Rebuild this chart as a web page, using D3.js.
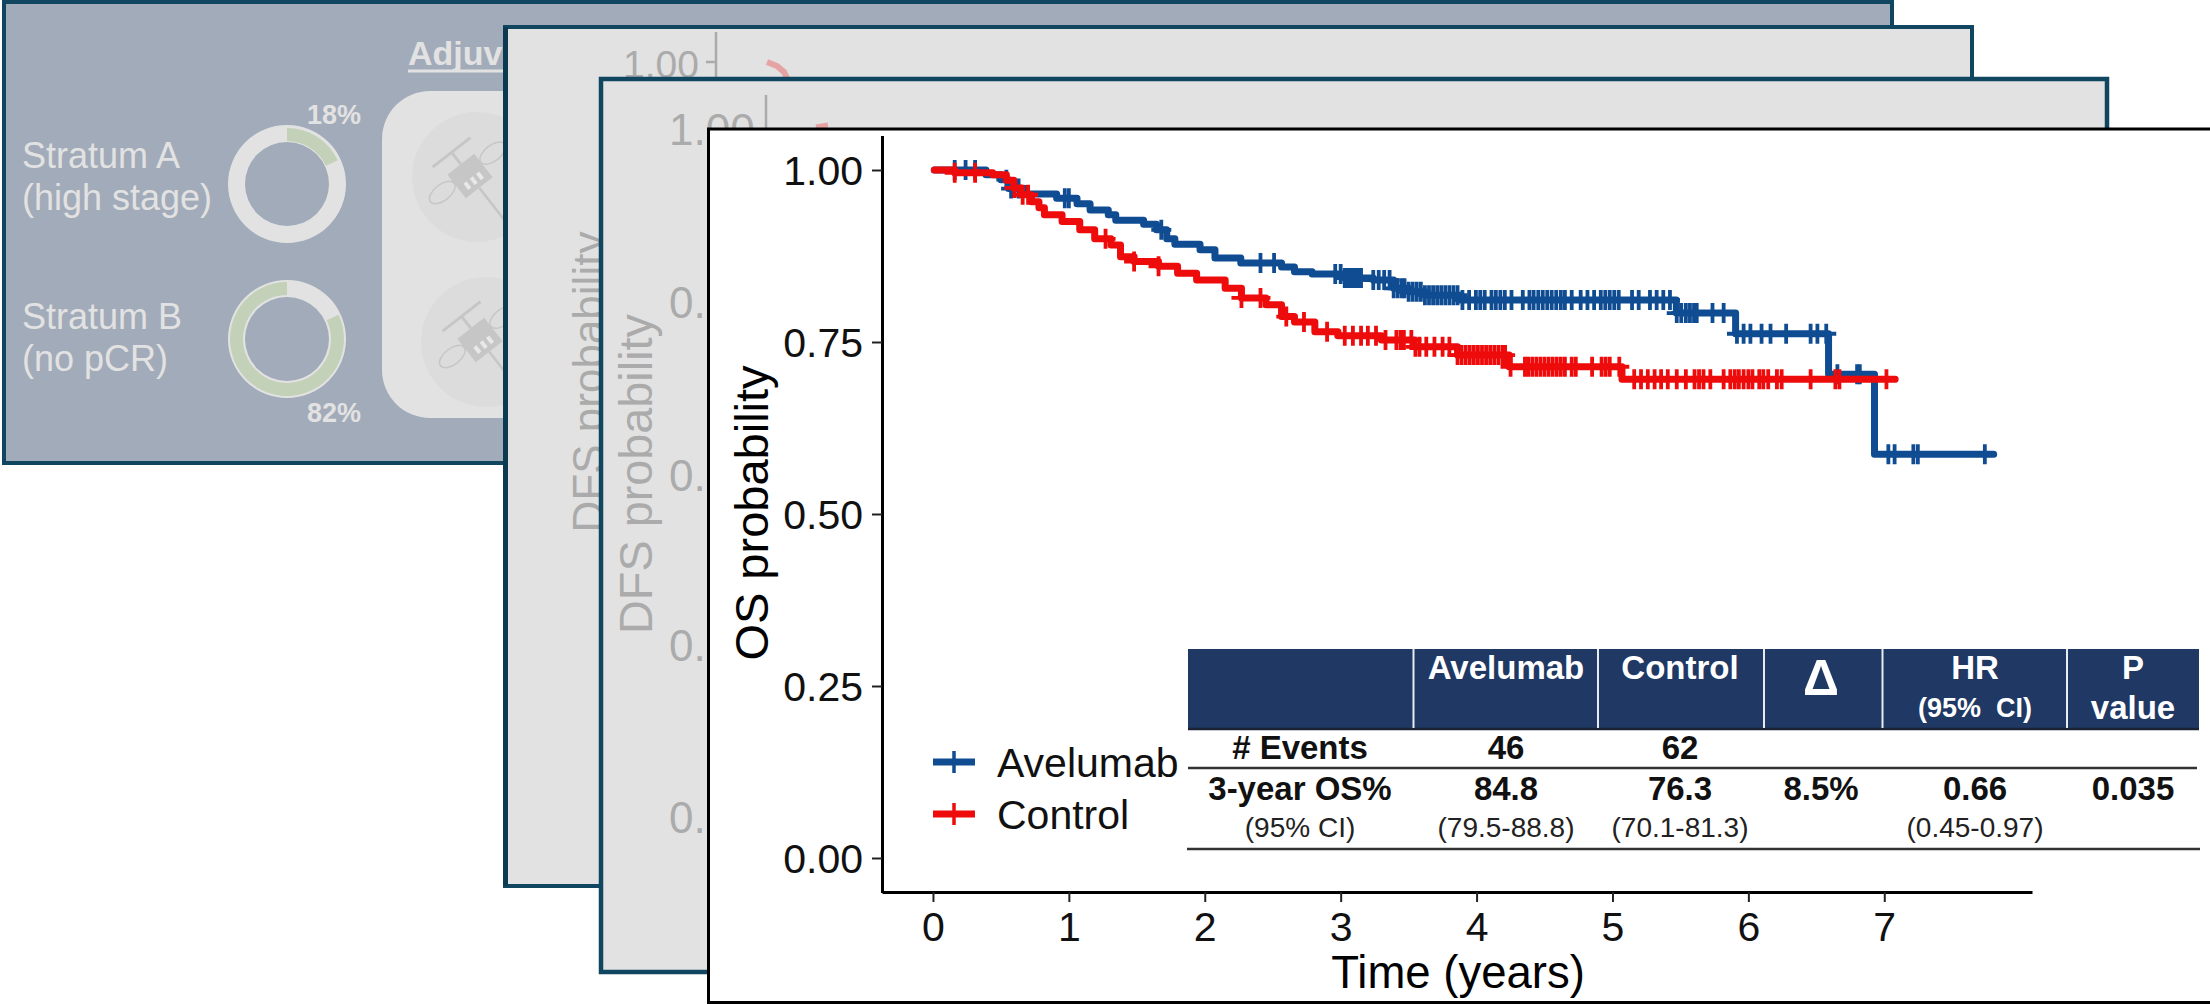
<!DOCTYPE html>
<html><head><meta charset="utf-8">
<script src="https://cdn.jsdelivr.net/npm/d3@7"></script>
<style>html,body{margin:0;padding:0;background:#fff}svg{display:block}text{font-family:"Liberation Sans",Arial,sans-serif}</style>
</head><body><svg id="c" width="2210" height="1004"></svg>
<script>
const blueT=[0.01,0.39,0.50,0.557,0.688,0.91,1.06,1.156,1.29,1.345,1.55,1.645,1.72,1.78,1.965,2.075,2.265,2.565,2.66,2.79,3.03,3.24,3.39,3.5,3.62,3.88,5.47,5.906,6.59,6.928,7.805];
const blueS=[1,0.993,0.986,0.973,0.965,0.959,0.951,0.942,0.935,0.927,0.921,0.913,0.90,0.892,0.884,0.872,0.865,0.859,0.852,0.849,0.843,0.84,0.828,0.823,0.818,0.811,0.792,0.762,0.703,0.587,0.587];
const redT=[0.01,0.16,0.44,0.54,0.595,0.65,0.725,0.78,0.82,0.95,1.08,1.19,1.31,1.38,1.48,1.66,1.80,1.94,2.15,2.27,2.45,2.565,2.66,2.81,2.98,3.3,3.54,3.86,4.24,5.07,7.08];
const redS=[1,0.996,0.993,0.985,0.974,0.964,0.954,0.945,0.935,0.925,0.913,0.90,0.891,0.874,0.867,0.86,0.85,0.84,0.828,0.814,0.804,0.787,0.779,0.765,0.759,0.753,0.743,0.731,0.714,0.696,0.696];
const blueCensor=[0.16,0.24,0.31,0.54,0.575,0.63,0.97,1.0,1.68,2.41,2.51,2.96,3.0,3.03,3.05,3.07,3.09,3.11,3.13,3.15,3.24,3.28,3.32,3.36,3.39,3.42,3.45,3.47,3.5,3.53,3.56,3.59,3.62,3.65,3.68,3.71,3.74,3.77,3.80,3.83,3.86,3.896,3.945,3.995,4.027,4.06,4.11,4.142,4.175,4.208,4.257,4.34,4.389,4.42,4.454,4.487,4.52,4.553,4.586,4.62,4.65,4.70,4.766,4.816,4.865,4.914,4.947,4.98,5.013,5.046,5.144,5.193,5.276,5.325,5.374,5.423,5.473,5.506,5.54,5.57,5.60,5.62,5.736,5.818,5.916,5.965,6.015,6.097,6.163,6.278,6.458,6.508,6.573,6.655,6.80,6.82,7.03,7.076,7.214,7.247,7.74];
const redCensor=[0.16,0.31,0.60,0.66,0.70,1.27,1.48,1.66,2.27,2.41,2.6,2.73,2.9,3.03,3.09,3.15,3.2,3.26,3.33,3.41,3.44,3.465,3.52,3.55,3.58,3.63,3.69,3.75,3.80,3.86,3.89,3.92,3.95,3.98,4.01,4.04,4.07,4.10,4.13,4.16,4.19,4.21,4.25,4.356,4.38,4.41,4.44,4.47,4.5,4.53,4.56,4.59,4.62,4.65,4.70,4.73,4.85,4.92,4.95,4.98,5.05,5.16,5.21,5.26,5.31,5.358,5.407,5.473,5.54,5.604,5.637,5.67,5.72,5.818,5.867,5.9,5.93,5.965,6.0,6.03,6.08,6.11,6.146,6.21,6.245,6.458,6.64,6.67,7.016];
const yTicks=[0,0.25,0.5,0.75,1];
const xTicks=[0,1,2,3,4,5,6,7];
const legendLabels=["Avelumab","Control"];
const legendColors=["#0f4c92","#ee0b0b"];
const stratumLabels=[["Stratum A","(high stage)"],["Stratum B","(no pCR)"]];
const stratumPct=[18,82];

const svg=d3.select("#c");
const TEAL="#10465f",PANEL="#e2e2e2",GREY="#ababab";

function rect(g,x,y,w,h,fill,stroke,sw,rx){return g.append("rect").attr("x",x).attr("y",y).attr("width",w).attr("height",h).attr("fill",fill).attr("stroke",stroke||"none").attr("stroke-width",sw||0).attr("rx",rx||0);}
function text(g,s,x,y,size,fill,opt){opt=opt||{};const t=g.append("text").attr("x",x).attr("y",y).attr("font-size",size).attr("fill",fill).attr("text-anchor",opt.a||"start").attr("font-weight",opt.b?"bold":"normal").text(s);if(opt.rot)t.attr("transform",`rotate(-90 ${x} ${y})`);return t;}
function line(g,x1,y1,x2,y2,c,w){return g.append("line").attr("x1",x1).attr("y1",y1).attr("x2",x2).attr("y2",y2).attr("stroke",c).attr("stroke-width",w);}

// panel 1
const p1=svg.append("g");
rect(p1,4,2,1888,461,"#a2abb9",TEAL,4);
const arc=d3.arc();
[184,339].forEach((cy,i)=>{
  const g=p1.append("g").attr("transform",`translate(287,${cy})`);
  g.append("path").attr("d",arc({innerRadius:42,outerRadius:59,startAngle:0,endAngle:2*Math.PI})).attr("fill",PANEL);
  const a=2*Math.PI*stratumPct[0]/100;
  g.append("path").attr("d",arc(i==0?{innerRadius:43,outerRadius:56,startAngle:0,endAngle:a}:{innerRadius:44,outerRadius:57,startAngle:a,endAngle:2*Math.PI})).attr("fill","#c2d1b7");
});
[[168,210],[329,371]].forEach((ys,i)=>ys.forEach((y,j)=>text(p1,stratumLabels[i][j],22,y,36,PANEL)));
text(p1,stratumPct[0]+"%",334,124,27,PANEL,{a:"middle",b:true});
text(p1,stratumPct[1]+"%",334,422,27,PANEL,{a:"middle",b:true});
text(p1,"Adjuvant",408,65,34,PANEL,{b:true});
rect(p1,408,69.5,200,3,PANEL);
rect(p1,382,91,400,327,PANEL,null,0,48);
[[477,177,470,176],[486,342,480,340]].forEach(d=>{
  p1.append("circle").attr("cx",d[0]).attr("cy",d[1]).attr("r",65).attr("fill","#dcdcdc");
  const g=p1.append("g").attr("transform",`translate(${d[2]},${d[3]}) rotate(-38)`);
  const c="#c6c6c6";
  rect(g,-17,-15,34,30,c);
  [-8,0,8].forEach(x=>rect(g,x-2,2,4,8,"#e8e8e8"));
  line(g,0,15,0,62,c,2.5);line(g,0,-15,0,-30,c,3);line(g,-24,-30,24,-30,c,3);
  [-32,32].forEach(x=>g.append("ellipse").attr("cx",x).attr("cy",-4).attr("rx",15).attr("ry",8).attr("fill","none").attr("stroke",c).attr("stroke-width",1.5));
});

// panel 2
const p2=svg.append("g");
rect(p2,505,27,1467,859,PANEL,TEAL,4);
rect(p2,503,27,5,859,"#0c3a50");
line(p2,716,32,716,90,GREY,2.5);line(p2,706,62,716,62,GREY,2.5);
text(p2,"1.00",699,78,39,GREY,{a:"end"});
text(p2,"DFS probability",604,382,44,GREY,{a:"middle",rot:true});
p2.append("path").attr("d","M767,62 L777,66 L784,72 L788,80").attr("fill","none").attr("stroke","#e5a3a3").attr("stroke-width",6);

// panel 3
const p3=svg.append("g");
rect(p3,601,79,1506,893,PANEL,TEAL,4.5);
line(p3,766,95,766,140,GREY,2.5);
text(p3,"1.00",669,145,44,GREY);
["0.75","0.50","0.25","0.00"].forEach((s,i)=>text(p3,s,669,[318,491,661,833][i],44,GREY));
text(p3,"DFS probability",652,474,46.8,GREY,{a:"middle",rot:true});
p3.append("path").attr("d","M816,127 L828,125").attr("fill","none").attr("stroke","#e5a3a3").attr("stroke-width",5);

// panel 4
const p4=svg.append("g");
rect(p4,708.5,129,1510,873.5,"#fff","#000",3);

const x=d3.scaleLinear().domain([-0.375,8.087]).range([882,2032]);
const y=d3.scaleLinear().domain([-0.05,1.05]).range([892.4,135.6]);

const clip=svg.append("g");
const yAxis=d3.axisLeft(y).tickValues(yTicks).tickFormat(d3.format(".2f")).tickSizeInner(10).tickSizeOuter(0).tickPadding(9);
const xAxis=d3.axisBottom(x).tickValues(xTicks).tickFormat(d3.format("d")).tickSizeInner(10).tickSizeOuter(0).tickPadding(9);
const gy=clip.append("g").attr("transform","translate(882,0)").call(yAxis);
const gx=clip.append("g").attr("transform","translate(0,892)").call(xAxis);
[gy,gx].forEach(g=>{
  g.select(".domain").attr("stroke","#000").attr("stroke-width",3);
  g.selectAll(".tick line").attr("stroke","#222").attr("stroke-width",2);
  g.selectAll(".tick text").attr("font-size",41).attr("fill","#111").style("font-family",'"Liberation Sans",Arial,sans-serif');
});
gy.selectAll(".tick text").attr("dy",".36em");
gx.selectAll(".tick text").attr("dy","0.72em").attr("font-size",41);
text(clip,"OS probability",768,513,47,"#000",{a:"middle",rot:true});
text(clip,"Time (years)",1458,988,45.5,"#000",{a:"middle"});

const stepLine=d3.line().curve(d3.curveStepAfter).x(d=>x(d[0])).y(d=>y(d[1]));
function drawSeries(T,S,C,col){
  const g=clip.append("g");
  g.append("path").attr("d",stepLine(T.map((t,i)=>[t,S[i]]))).attr("fill","none").attr("stroke",col).attr("stroke-width",7).attr("stroke-linejoin","round").attr("stroke-linecap","round");
  const at=t=>S[Math.max(0,d3.bisectRight(T,t)-1)];
  g.selectAll(".cen").data(C).join("path").attr("class","cen")
   .attr("d",t=>{const X=x(t),Y=y(at(t));return `M${X},${Y-10}V${Y+10}M${X-10},${Y}H${X+10}`;})
   .attr("stroke",col).attr("stroke-width",3.8).attr("fill","none");
}
drawSeries(blueT,blueS,blueCensor,legendColors[0]);
drawSeries(redT,redS,redCensor,legendColors[1]);

// legend
legendLabels.forEach((l,i)=>{
  const yy=[762,814][i];
  line(clip,933,yy,975,yy,legendColors[i],7);
  line(clip,954,yy-11,954,yy+11,legendColors[i],3.5);
  text(clip,l,997,yy+15,41,"#111");
});

// table
const headFill="#1f3864";
const colEdges=[1188,1413.5,1598,1764,1882.5,2067,2199];
const colCenters=[1300,1506,1680,1821,1975,2133];
const header=[[],[["Avelumab",679,33]],[["Control",679,33]],[["Δ",695,50]],[["HR",679,33],["(95%  CI)",717,27]],[["P",679,33],["value",719,33]]];
const rowEvents=["# Events","46","62"];
const rowOS=["3-year OS%","84.8","76.3","8.5%","0.66","0.035"];
const rowCI=["(95% CI)","(79.5-88.8)","(70.1-81.3)","","(0.45-0.97)",""];
const tb=clip.append("g");
rect(tb,colEdges[0],649,colEdges[6]-colEdges[0],80,headFill);
line(tb,colEdges[0],729,colEdges[6],729,"#1a2233",2.5);
colEdges.slice(1,-1).forEach(e=>line(tb,e,649,e,728,"#e8ecf2",2));
header.forEach((c,i)=>c.forEach(h=>text(tb,h[0],colCenters[i],h[1],h[2],"#fff",{a:"middle",b:true}).style("white-space","pre")));
rowEvents.forEach((s,i)=>text(tb,s,colCenters[i],759,33,"#111",{a:"middle",b:true}));
line(tb,1188,768,2197,768,"#333",2.5);
rowOS.forEach((s,i)=>text(tb,s,colCenters[i],800,33,"#111",{a:"middle",b:true}));
rowCI.forEach((s,i)=>{if(s)text(tb,s,colCenters[i],837,28,"#222",{a:"middle"});});
line(tb,1187,849,2200,849,"#333",2.5);
</script></body></html>
